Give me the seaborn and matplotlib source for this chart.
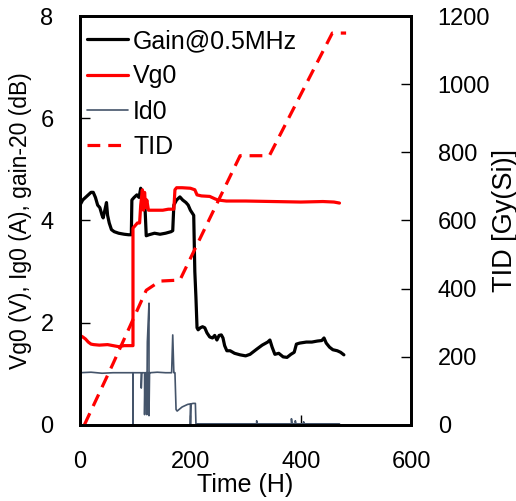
import matplotlib
matplotlib.use('Agg')
from matplotlib import pyplot as plt
import seaborn as sns
import pandas as pd

sns.set_style('ticks')
plt.rcParams['font.family'] = ['Liberation Sans', 'DejaVu Sans']
plt.rcParams['text.color'] = 'black'
plt.rcParams['axes.labelcolor'] = 'black'

# gain - 20 (dB)
gain_t = [0, 5, 10, 15, 20, 24, 28, 32, 36, 40, 42, 45, 48, 50, 53, 57, 62, 70, 80, 88, 93,
          94, 98, 103, 107, 110, 113, 116, 118, 120, 125, 135, 145, 155, 165, 168,
          170, 175, 181, 186, 192, 196, 200, 203, 206, 208, 210, 212, 214, 218, 222, 226,
          230, 235, 240, 244, 248, 252, 256, 259, 262, 266, 272, 280, 290, 300, 308, 320,
          330, 340, 344, 348, 353, 360, 368, 375, 382, 388, 392, 398, 410, 420, 430, 438,
          442, 446, 452, 458, 466, 472, 478]
gain_v = [4.30, 4.40, 4.45, 4.50, 4.55, 4.55, 4.45, 4.30, 4.25, 4.10, 4.05, 4.20, 4.35, 4.10,
          3.95, 3.82, 3.78, 3.75, 3.73, 3.72, 3.72,
          4.40, 4.45, 4.50, 4.45, 4.63, 4.50, 4.40, 4.20, 3.70, 3.72, 3.75, 3.73, 3.75, 3.78, 3.80,
          4.30, 4.40, 4.46, 4.40, 4.35, 4.30, 4.20, 4.15, 4.10, 3.00, 2.50, 1.90, 1.86, 1.90, 1.92,
          1.90, 1.80, 1.72, 1.70, 1.75, 1.66, 1.75, 1.76, 1.70, 1.55, 1.45, 1.45, 1.40, 1.37, 1.35,
          1.38, 1.48, 1.56, 1.62, 1.66, 1.52, 1.38, 1.40, 1.33, 1.32, 1.38, 1.42, 1.58, 1.60, 1.62,
          1.62, 1.64, 1.65, 1.70, 1.60, 1.52, 1.47, 1.45, 1.42, 1.37]

# Vg0 (V)
vg_t = [0, 5, 10, 15, 20, 25, 35, 50, 60, 70, 80, 90, 96, 96, 100, 104, 108, 110, 113, 115,
        117, 119, 121, 124, 130, 140, 150, 160, 170, 172, 175, 185, 200, 208, 212, 220, 235,
        245, 250, 265, 300, 350, 400, 440, 460, 470]
vg_v = [1.75, 1.72, 1.68, 1.62, 1.58, 1.57, 1.56, 1.57, 1.55, 1.53, 1.55, 1.55, 1.55, 3.85,
        3.90, 3.95, 3.95, 4.30, 4.60, 4.20, 4.55, 4.25, 4.40, 4.20, 4.20, 4.20, 4.20, 4.22, 4.22,
        4.60, 4.64, 4.64, 4.63, 4.60, 4.50, 4.48, 4.47, 4.42, 4.40, 4.38, 4.38, 4.37, 4.36, 4.37,
        4.36, 4.34]

# Id0 (A)
id_t = [0, 20, 40, 60, 80, 96, 96, 96, 104, 111, 111, 112, 117, 117, 118, 121, 121, 122, 125,
        125, 126, 127, 140, 155, 166, 168, 170, 172, 174, 176, 185, 195, 200, 200, 201, 205,
        209, 210, 260, 320, 320, 321, 383, 383, 384, 390, 390, 391, 405, 405, 406, 470]
id_v = [1.02, 1.03, 1.01, 1.02, 1.02, 1.02, 0.0, 1.02, 1.02, 1.02, 0.72, 1.02, 1.02, 0.20,
        1.02, 1.02, 0.20, 1.62, 2.38, 0.18, 1.02, 1.02, 1.03, 1.02, 1.02, 1.76, 1.02, 1.02,
        0.30, 0.27, 0.35, 0.40, 0.41, 0.0, 0.41, 0.42, 0.42, 0.02, 0.02, 0.02, 0.08, 0.02, 0.02,
        0.12, 0.02, 0.02, 0.08, 0.02, 0.02, 0.06, 0.02, 0.02]

# TID (Gy(Si))
tid_t = [8, 60, 120, 145, 181, 290, 343, 457, 482]
tid_v = [0, 180, 395, 422, 425, 790, 790, 1150, 1150]

fig = plt.figure(figsize=(5.16, 5.01), dpi=100)
ax = fig.add_axes([0.155, 0.152, 0.642, 0.816])
ax2 = ax.twinx()

sns.lineplot(data=pd.DataFrame({'t': gain_t, 'v': gain_v}), x='t', y='v', sort=False,
             estimator=None, ax=ax, color='black', linewidth=2.3, label='Gain@0.5MHz')
sns.lineplot(data=pd.DataFrame({'t': vg_t, 'v': vg_v}), x='t', y='v', sort=False,
             estimator=None, ax=ax, color='#ff0000', linewidth=2.3, label='Vg0')
sns.lineplot(data=pd.DataFrame({'t': id_t, 'v': id_v}), x='t', y='v', sort=False,
             estimator=None, ax=ax, color='#44546a', linewidth=1.2, label='Id0')
sns.lineplot(data=pd.DataFrame({'t': tid_t, 'v': tid_v}), x='t', y='v', sort=False,
             estimator=None, ax=ax2, color='#ff0000', linewidth=2.3, label='TID',
             dashes=False, linestyle=(0, (4, 2.5)))

ax.set_xlim(0, 600)
ax.set_ylim(0, 8)
ax2.set_ylim(0, 1200)
ax.set_xticks([0, 200, 400, 600])
ax.set_yticks([0, 2, 4, 6, 8])
ax2.set_yticks(range(0, 1201, 200))

ax.set_xlabel('Time (H)', fontsize=18, labelpad=0)
ax.set_ylabel('Vg0 (V), Ig0 (A), gain-20 (dB)', fontsize=16.5, labelpad=6)
ax2.set_ylabel('TID [Gy(Si)]', fontsize=19.5, labelpad=1)

for a in (ax, ax2):
    a.tick_params(direction='in', length=7, width=1, labelsize=17, colors='black')
    for s in a.spines.values():
        s.set_linewidth(2)
        s.set_color('black')
ax.tick_params(axis='x', pad=19)
ax.tick_params(axis='y', pad=19)
ax2.tick_params(axis='y', pad=19)

h1, l1 = ax.get_legend_handles_labels()
h2, l2 = ax2.get_legend_handles_labels()
ax.get_legend().remove()
ax2.legend(h1 + h2, l1 + l2, loc='upper left', bbox_to_anchor=(0, 0.985), frameon=False,
           fontsize=18, handlelength=1.65, handletextpad=0.2, labelspacing=0.45,
           borderaxespad=0, borderpad=0.28)

fig.savefig('out.png', dpi=100)
